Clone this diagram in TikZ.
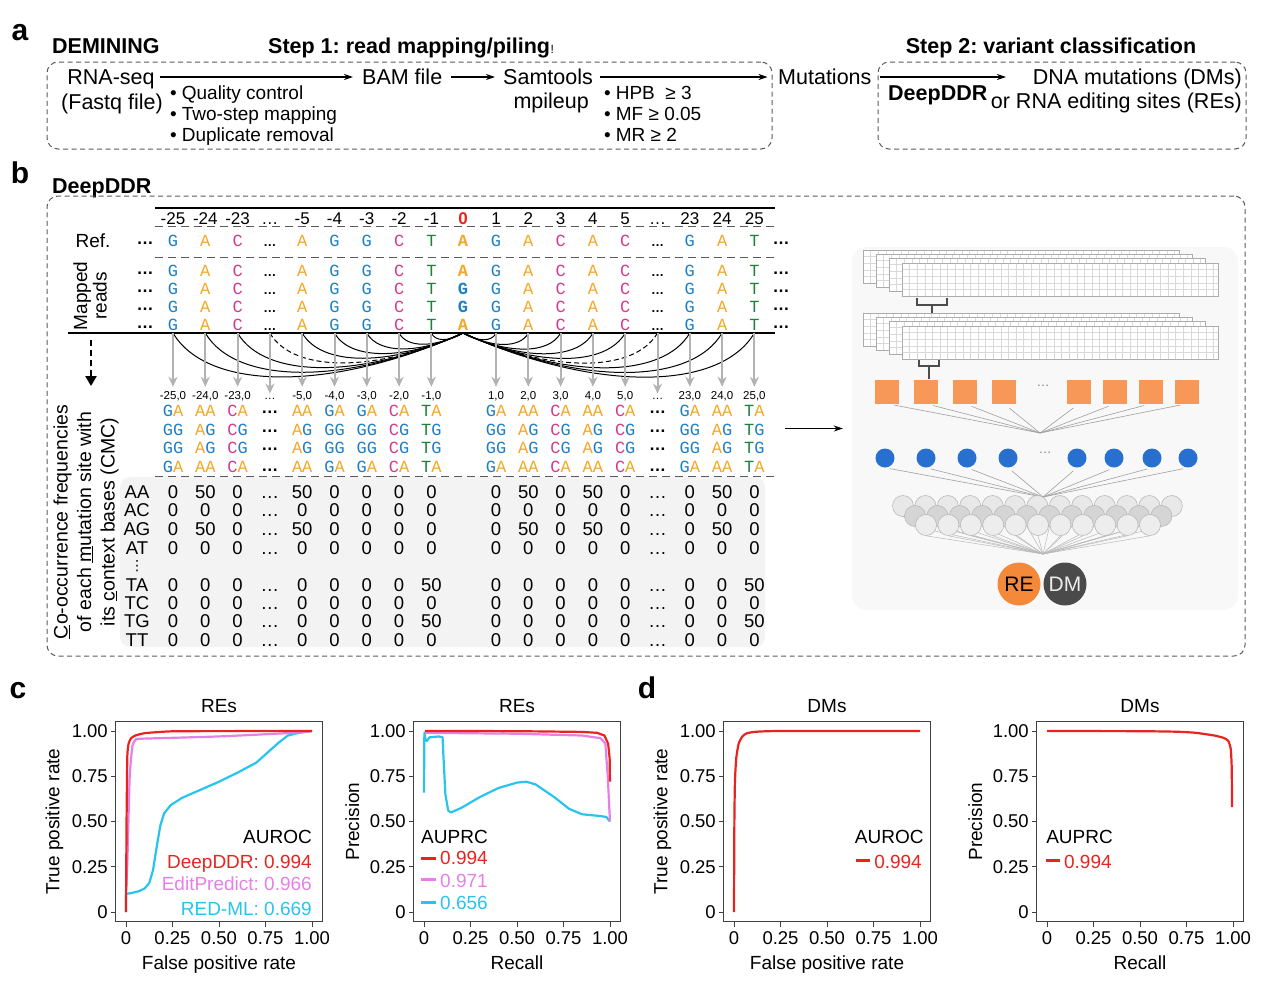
\documentclass[tikz,border=0pt]{standalone}
\usepackage{fontspec}
\setmainfont{Liberation Sans}
\newfontfamily\monof{Liberation Mono}
\newfontfamily\dejav{DejaVu Sans}
\usetikzlibrary{arrows.meta}
\pgfdeclarelayer{back}
\pgfdeclarelayer{mid}
\pgfsetlayers{back,mid,main}
\frenchspacing
\newcommand\fsz[1]{\fontsize{#1}{#1}\selectfont}
\definecolor{cG}{RGB}{30,128,196}
\definecolor{cA}{RGB}{246,166,35}
\definecolor{cC}{RGB}{214,58,140}
\definecolor{cT}{RGB}{28,130,56}
\definecolor{cRed}{RGB}{232,36,30}
\definecolor{cViolet}{RGB}{228,128,232}
\definecolor{cCyan}{RGB}{40,196,238}
\definecolor{cOrange}{RGB}{247,152,88}
\definecolor{cBlue}{RGB}{40,112,208}
\definecolor{cRE}{RGB}{245,137,58}
\definecolor{cDM}{RGB}{74,74,74}
\definecolor{dgray}{RGB}{90,90,90}
\definecolor{nnbgc}{RGB}{248,248,248}
\definecolor{matbgc}{RGB}{243,243,243}
\tikzset{
 dbox/.style={draw=dgray, line width=1pt, dash pattern=on 5pt off 3.5pt, rounded corners=11pt},
 arr/.style={line width=1.3pt, -{Stealth[length=9pt,width=6pt]}},
 hd/.style={font=\fsz{21.5}\bfseries, anchor=base west},
 plet/.style={font=\fsz{30}\bfseries, anchor=base},
 ta/.style={font=\fsz{21.5}},
 bul/.style={font=\fsz{19}, anchor=base west},
 poslab/.style={font=\fsz{17}, anchor=base},
 seq/.style={font=\monof\fsz{17}, anchor=base},
 seqb/.style={font=\monof\bfseries\fsz{17}, anchor=base},
 sdots/.style={font=\fsz{13}\bfseries, anchor=base},
 ldots/.style={font=\fsz{17}\bfseries, anchor=base},
 pairlab/.style={font=\fsz{11.5}, anchor=base},
 matv/.style={font=\fsz{18.5}, anchor=base},
 hrule/.style={line width=1.2pt},
 dline/.style={line width=1pt, dash pattern=on 8pt off 5pt, draw=dgray},
 arcline/.style={line width=1pt},
 garr/.style={draw=gray!60, line width=2pt, -{Stealth[length=10pt,width=9pt]}, shorten <=3pt, shorten >=4pt},
 gridc/.style={draw=gray!30, line width=0.4pt},
 gridb/.style={draw=gray!65, line width=0.8pt},
 brk/.style={draw=black!70, line width=1.2pt},
 fanl/.style={draw=gray!75, line width=0.6pt},
 sqn/.style={fill=cOrange, minimum size=24pt, inner sep=0pt},
 bcn/.style={circle, fill=cBlue, minimum size=19pt, inner sep=0pt},
 gcn/.style={circle, draw=gray!55, line width=0.6pt, minimum size=21pt, inner sep=0pt},
 axbox/.style={draw=black!75, line width=1pt},
 ticklab/.style={font=\fsz{18.5}},
 axlab/.style={font=\fsz{19}},
 crv/.style={line width=2.2pt, line join=round},
 pc/.style={shift={(#1,912)}, x=186pt, y=181pt},
}
\newcommand\gridrect[2]{%
 \fill[white] (#1,#2) rectangle ++(316,33);
 \foreach \kk in {1,...,41}{\draw[gridc] ({#1+7.6*\kk},#2) -- ++(0,33);}
 \foreach \kk in {1,...,4}{\draw[gridc] (#1,{#2+6.6*\kk}) -- ++(316,0);}
 \draw[gridb] (#1,#2) rectangle ++(316,33);}
\newcommand\plotaxes[5]{%
 \begin{scope}[pc=#1]
  \draw[axbox] (-0.054,-0.055) rectangle (1.054,1.05);
  \foreach \tv/\tl [count=\kk] in {0/0,0.25/0.25,0.5/0.50,0.75/0.75,1/1.00}{
    \draw[axbox] (\tv,-0.055) -- ++(0,-0.028);
    \draw[axbox] (-0.054,\tv) -- ++(-0.027,0);
    \node[ticklab,anchor=base] (#5x\kk) at (\tv,-0.182) {\tl};
    \node[ticklab,anchor=east] (#5y\kk) at (-0.097,\tv) {\tl};
  }
  \node[axlab,anchor=base] (#5t) at (0.5,1.105) {#2};
  \node[axlab,anchor=base] (#5xl) at (0.5,-0.315) {#3};
  \node[axlab,rotate=90] (#5yl) at (-0.385,0.5) {#4};
 \end{scope}}
\begin{document}
\begin{tikzpicture}[x=1pt,y=-1pt, every node/.style={inner sep=0pt}, font=\fsz{18}]
\useasboundingbox (0,0) rectangle (1269,980);

% ================= panel a =================
\node[plet] (la) at (20,40) {a};
\node[hd] (demining) at (52,53) {DEMINING};
\node[hd] (step1) at (268,53) {Step 1: read mapping/piling};
\node[font=\fsz{12}, anchor=base west] (excl) at (step1.base east) {!};
\node[hd, anchor=base] (step2) at (1051,53) {Step 2: variant classification};
\node[dbox, minimum width=725pt, minimum height=87pt] (box1) at (409.5,105.5) {};
\node[dbox, minimum width=368pt, minimum height=87pt] (box2) at (1062,105.5) {};
\coordinate (ay) at (0,77);
\node[ta, anchor=base] (rnaseq) at (111,84) {RNA-seq};
\node[ta, anchor=base] (fastq) at (112,109) {(Fastq file)};
\node[bul] (b1) at (170,99) {•\hspace{5pt}Quality control};
\node[bul] (b2) at (170,120) {•\hspace{5pt}Two-step mapping};
\node[bul] (b3) at (170,141) {•\hspace{5pt}Duplicate removal};
\node[ta, anchor=base west] (bam) at (362,84) {BAM file};
\node[ta, anchor=base west] (sam) at (503,84) {Samtools};
\node[ta, anchor=base east] (mpile) at (589,108) {mpileup};
\node[bul] (h1) at (604,99) {•\hspace{5pt}HPB\ \ ≥ 3};
\node[bul] (h2) at (604,120) {•\hspace{5pt}MF ≥ 0.05};
\node[bul] (h3) at (604,141) {•\hspace{5pt}MR ≥ 2};
\node[ta, anchor=base west] (mut) at (778,84) {Mutations};
\node[hd] (ddr) at (888,100) {DeepDDR};
\node[ta, anchor=base east] (dms) at (1242,84) {DNA mutations (DMs)};
\node[ta, anchor=base east] (res) at (1242,108) {or RNA editing sites (REs)};
\coordinate (ddrtip) at (1006,77);
\draw[arr, shorten <=5pt, shorten >=9pt] (rnaseq.east |- ay) -- (bam.west |- ay);
\draw[arr, shorten <=9pt, shorten >=8pt] (bam.east |- ay) -- (sam.west |- ay);
\draw[arr, shorten <=7pt, shorten >=5pt] (sam.east |- ay) -- (box1.east |- ay);
\draw[arr, shorten <=2pt] (box2.west |- ay) -- (ddrtip);

% ================= panel b =================
\node[plet] (lb) at (20,183) {b};
\node[hd] (ddrb) at (52,193) {DeepDDR};
\node[dbox, minimum width=1198pt, minimum height=460pt] (boxb) at (646,426) {};

\begin{pgfonlayer}{back}
 \node[fill=nnbgc, rounded corners=14pt, minimum width=386pt, minimum height=363pt] (nnbg) at (1045,428.5) {};
 \fill[matbgc, rounded corners=10pt] (120,477) rectangle (765,647);
\end{pgfonlayer}

\draw[hrule] (155,208) -- (775,208);
\draw[dline] (155,226) -- (775,226);
\draw[dline] (155,257) -- (775,257);
\draw[hrule] (68,333) -- (775,333);
\draw[dline] (155,476) -- (775,476);

\node[ta, font=\fsz{19}, anchor=base] (reflab) at (93,247) {Ref.};
\node[rotate=90, align=center, font=\fontsize{19}{19.5}\selectfont] (mapped) at (90,296) {Mapped\\reads};
\node[rotate=90, align=center, font=\fontsize{19.5}{23.5}\selectfont] (cmc) at (86,522)
  {\underline{C}o-occurrence frequencies\\of each \underline{m}utation site with\\its \underline{c}ontext bases (CMC)};

% arcs
\foreach \ci in {0,...,8}{
  \pgfmathsetmacro\xs{173+32.3*\ci}
  \pgfmathsetmacro\arcL{463-\xs}
  \pgfmathsetmacro\arcD{1.33*(2+0.145*\arcL)}
  \ifnum\ci=3 \tikzset{arcst/.style={dash pattern=on 5pt off 3pt}}\else\tikzset{arcst/.style={solid}}\fi
  \draw[arcline,arcst] (\xs,333) .. controls ({\xs+0.12*\arcL},{333+\arcD}) and ({463-0.45*\arcL},{333+\arcD}) .. (463,333);
}
\foreach \ci in {10,...,18}{
  \pgfmathsetmacro\xs{173+32.3*\ci}
  \pgfmathsetmacro\arcL{\xs-463}
  \pgfmathsetmacro\arcD{1.33*(2+0.145*\arcL)}
  \ifnum\ci=15 \tikzset{arcst/.style={dash pattern=on 5pt off 3pt}}\else\tikzset{arcst/.style={solid}}\fi
  \draw[arcline,arcst] (\xs,333) .. controls ({\xs-0.12*\arcL},{333+\arcD}) and ({463+0.45*\arcL},{333+\arcD}) .. (463,333);
}

% sequence columns
\def\collist{0/-25/G,1/-24/A,2/-23/C,4/-5/A,5/-4/G,6/-3/G,7/-2/C,8/-1/T,10/1/G,11/2/A,12/3/C,13/4/A,14/5/C,16/23/G,17/24/A,18/25/T}
\foreach \ci/\cn/\cb in \collist {
  \pgfmathsetmacro\cx{173+32.3*\ci}
  \node[poslab] (pos\ci) at (\cx,224) {\cn};
  \node[seq] (ref\ci) at (\cx,246) {\textcolor{c\cb}{\cb}};
  \foreach \rr/\yy in {1/276,2/294,3/312,4/330}
    {\node[seq] (rd\rr-\ci) at (\cx,\yy) {\textcolor{c\cb}{\cb}};}
  \node[pairlab] (pl\ci) at (\cx,399) {\cn,0};
  \foreach \rr/\yy/\mm in {1/416/A,2/435/G,3/453/G,4/472/A}
    {\node[seq] (pr\rr-\ci) at (\cx,\yy) {\textcolor{c\cb}{\cb}\textcolor{c\mm}{\mm}};}
}
\foreach \ci in {3,15}{
  \pgfmathsetmacro\cx{173+32.3*\ci}
  \node[poslab] (pos\ci) at (\cx,224) {…};
  \node[sdots] (ref\ci) at (\cx,246) {…};
  \foreach \rr/\yy in {1/276,2/294,3/312,4/330}{\node[sdots] (rd\rr-\ci) at (\cx,\yy) {…};}
  \node[pairlab] (pl\ci) at (\cx,399) {…};
  \foreach \rr/\yy in {1/413,2/432,3/450,4/471}{\node[ldots] (pr\rr-\ci) at (\cx,\yy) {…};}
}
\node[poslab, font=\fsz{17}\bfseries, text=cRed] (pos9) at (463,224) {0};
\node[seqb] (ref9) at (463,246) {\textcolor{cA}{A}};
\foreach \rr/\yy/\mm in {1/276/A,2/294/G,3/312/G,4/330/A}{\node[seqb] (rd\rr-9) at (463,\yy) {\textcolor{c\mm}{\mm}};}
\foreach \rr/\yy in {0/244,1/274,2/292,3/310,4/328}{
  \node[ldots] (lead\rr) at (145,\yy) {…};
  \node[ldots] (trail\rr) at (781,\yy) {…};}
\foreach \ci in {0,...,8,10,11,...,18}{
  \draw[garr] (rd4-\ci.south) -- (pl\ci.north);}

% dashed arrow down
\coordinate (dash1) at (91,340);
\coordinate (dash2) at (91,386);
\draw[line width=2.5pt, dash pattern=on 6pt off 4pt, -{Triangle[length=10pt,width=11pt]}] (dash1) -- (dash2);

% CMC matrix
\foreach \lab/\yy/\vals in {
 AA/498/{0,50,0,…,50,0,0,0,0,0,50,0,50,0,…,0,50,0},
 AC/516/{0,0,0,…,0,0,0,0,0,0,0,0,0,0,…,0,0,0},
 AG/535/{0,50,0,…,50,0,0,0,0,0,50,0,50,0,…,0,50,0},
 AT/554/{0,0,0,…,0,0,0,0,0,0,0,0,0,0,…,0,0,0},
 TA/591/{0,0,0,…,0,0,0,0,50,0,0,0,0,0,…,0,0,50},
 TC/609/{0,0,0,…,0,0,0,0,0,0,0,0,0,0,…,0,0,0},
 TG/627/{0,0,0,…,0,0,0,0,50,0,0,0,0,0,…,0,0,50},
 TT/646/{0,0,0,…,0,0,0,0,0,0,0,0,0,0,…,0,0,0}}{
  \node[matv] (row\lab) at (137,\yy) {\lab};
  \foreach \v [count=\ccol from 0] in \vals {
    \node[matv] (m\lab-\ccol) at ({173+32.3*(\ccol+(\ccol>8))},\yy) {\v};}
}
\node[font=\dejav\fsz{14}] (vdts) at (137,566) {⋮};

% arrow to network
\coordinate (cmcR) at (785,428.5);
\draw[arr, shorten >=9pt] (cmcR) -- (nnbg.west);

% network
\gridrect{863}{250}\gridrect{876}{254}\gridrect{889}{258}\gridrect{902}{263}
\gridrect{863}{313}\gridrect{876}{317}\gridrect{889}{321}\gridrect{902}{326}
\draw[brk] (917,298) -- (917,305) -- (947,305) -- (947,298);
\draw[brk] (932,305) -- (932,313);
\draw[brk] (919,360) -- (919,366) -- (939,366) -- (939,360);
\draw[brk] (929,366) -- (929,379);
\coordinate (conv1) at (1040,433);
\coordinate (conv2) at (1043,497);
\coordinate (conv3) at (1043,554);
\foreach \x [count=\kk] in {887,926,965,1004,1079,1115,1151,1187}{
  \node[sqn] (sq\kk) at (\x,391.5) {};
  \draw[fanl, shorten <=7pt] (sq\kk.south) -- (conv1);}
\node[font=\fsz{13}, text=gray] (sqdots) at (1043,386) {…};
\foreach \x [count=\kk] in {885,926,967,1008,1077,1114,1152,1188}{
  \node[bcn] (bc\kk) at (\x,458) {};
  \draw[fanl, shorten <=5pt] (bc\kk.south) -- (conv2);}
\node[font=\fsz{13}, text=gray] (bcdots) at (1045,453) {…};
\foreach \kk in {0,...,12}{\node[gcn, fill=gray!18] (ga\kk) at ({903+22.4*\kk},506) {};}
\foreach \kk in {0,...,11}{\node[gcn, fill=gray!33] (gb\kk) at ({915+22.4*\kk},516) {};}
\foreach \kk in {0,...,10}{\node[gcn, fill=gray!14] (gc\kk) at ({926+22.4*\kk},525) {};}
\begin{pgfonlayer}{mid}
 \foreach \kk in {0,...,11}{\draw[draw=gray!55, line width=0.5pt] (gb\kk.south) -- (conv3);}
 \foreach \kk in {0,...,10}{\draw[draw=gray!55, line width=0.5pt] (gc\kk.south) -- (conv3);}
 \draw[draw=gray!55, line width=0.5pt] (ga0.south) -- (conv3);
 \draw[draw=gray!55, line width=0.5pt] (ga12.south) -- (conv3);
\end{pgfonlayer}
\node[circle, fill=cRE, minimum size=43pt, font=\fsz{21}] (re) at (1019,584) {RE};
\node[circle, fill=cDM, minimum size=43pt, font=\fsz{21}, text=gray!15] (dm) at (1065,584) {DM};

% ================= panels c, d =================
\node[plet] (lc) at (18,698) {c};
\node[plet] (ld) at (647,698) {d};
\plotaxes{126}{REs}{False positive rate}{True positive rate}{pa}
\plotaxes{424}{REs}{Recall}{Precision}{pb}
\plotaxes{734}{DMs}{False positive rate}{True positive rate}{pcc}
\plotaxes{1047}{DMs}{Recall}{Precision}{pd}

\begin{scope}[pc=126]
 \draw[crv, cCyan] plot coordinates {(0,0) (0,0.1) (0.03,0.105) (0.07,0.115) (0.1,0.13) (0.125,0.16) (0.145,0.23) (0.165,0.36) (0.185,0.48) (0.205,0.545) (0.24,0.59) (0.3,0.63) (0.4,0.675) (0.5,0.72) (0.6,0.77) (0.7,0.825) (0.76,0.88) (0.82,0.935) (0.87,0.975) (0.93,0.99) (1,1)};
 \draw[crv, cViolet] plot[smooth, tension=0.3] coordinates {(0,0.1) (0.008,0.3) (0.02,0.75) (0.035,0.92) (0.055,0.955) (0.1,0.958) (0.5,0.97) (0.9,0.99) (1,1)};
 \draw[crv, cRed] plot[smooth, tension=0.3] coordinates {(0,0) (0.003,0.5) (0.007,0.86) (0.014,0.93) (0.027,0.96) (0.05,0.975) (0.1,0.988) (0.2,0.996) (0.3,0.999) (1,1)};
 \node[axlab, anchor=base east] (pal0) at (1,0.381) {AUROC};
 \node[axlab, anchor=base east, text=cRed] (pal1) at (1,0.243) {DeepDDR: 0.994};
 \node[axlab, anchor=base east, text=cViolet] (pal2) at (1,0.1215) {EditPredict: 0.966};
 \node[axlab, anchor=base east, text=cCyan] (pal3) at (1,-0.017) {RED-ML: 0.669};
\end{scope}

\begin{scope}[pc=424]
 \draw[crv, cCyan] plot coordinates {(0,0.66) (0.002,0.99) (0.008,0.955) (0.015,0.945) (0.03,0.965) (0.08,0.97) (0.1,0.965) (0.105,0.85) (0.115,0.65) (0.13,0.56) (0.145,0.55) (0.2,0.575) (0.3,0.635) (0.4,0.685) (0.5,0.715) (0.55,0.72) (0.6,0.705) (0.7,0.635) (0.78,0.57) (0.85,0.54) (0.95,0.53) (0.98,0.525) (1.0,0.5)};
 \draw[crv, cViolet] plot coordinates {(0.005,0.99) (0.5,0.985) (0.85,0.975) (0.95,0.96) (0.975,0.93) (0.988,0.75) (0.995,0.6) (1.0,0.5)};
 \draw[crv, cRed] plot coordinates {(0.005,1.0) (0.3,1.0) (0.6,0.998) (0.85,0.995) (0.93,0.99) (0.97,0.975) (0.99,0.93) (0.998,0.85) (1.0,0.72)};
 \node[axlab, anchor=base west] (pbl0) at (-0.016,0.381) {AUPRC};
 \draw[cRed, line width=3pt] (-0.016,0.298) -- (0.065,0.298);
 \node[axlab, anchor=base west, text=cRed] (pbl1) at (0.086,0.26) {0.994};
 \draw[cViolet, line width=3pt] (-0.016,0.177) -- (0.065,0.177);
 \node[axlab, anchor=base west, text=cViolet] (pbl2) at (0.086,0.138) {0.971};
 \draw[cCyan, line width=3pt] (-0.016,0.055) -- (0.065,0.055);
 \node[axlab, anchor=base west, text=cCyan] (pbl3) at (0.086,0.0166) {0.656};
\end{scope}

\begin{scope}[pc=734]
 \draw[crv, cRed] plot[smooth, tension=0.3] coordinates {(0,0) (0.002,0.5) (0.005,0.72) (0.012,0.85) (0.025,0.93) (0.045,0.97) (0.07,0.988) (0.12,0.996) (0.25,1) (1,1)};
 \node[axlab, anchor=base east] (pcl0) at (1.02,0.381) {AUROC};
 \draw[cRed, line width=3pt] (0.656,0.282) -- (0.731,0.282);
 \node[axlab, anchor=base west, text=cRed] (pcl1) at (0.753,0.243) {0.994};
\end{scope}

\begin{scope}[pc=1047]
 \draw[crv, cRed] plot[smooth, tension=0.3] coordinates {(0,1) (0.5,0.999) (0.7,0.996) (0.8,0.99) (0.9,0.975) (0.95,0.962) (0.975,0.945) (0.988,0.9) (0.993,0.8) (0.995,0.58)};
 \node[axlab, anchor=base west] (pdl0) at (-0.005,0.381) {AUPRC};
 \draw[cRed, line width=3pt] (-0.005,0.282) -- (0.07,0.282);
 \node[axlab, anchor=base west, text=cRed] (pdl1) at (0.091,0.243) {0.994};
\end{scope}
\end{tikzpicture}
\end{document}
